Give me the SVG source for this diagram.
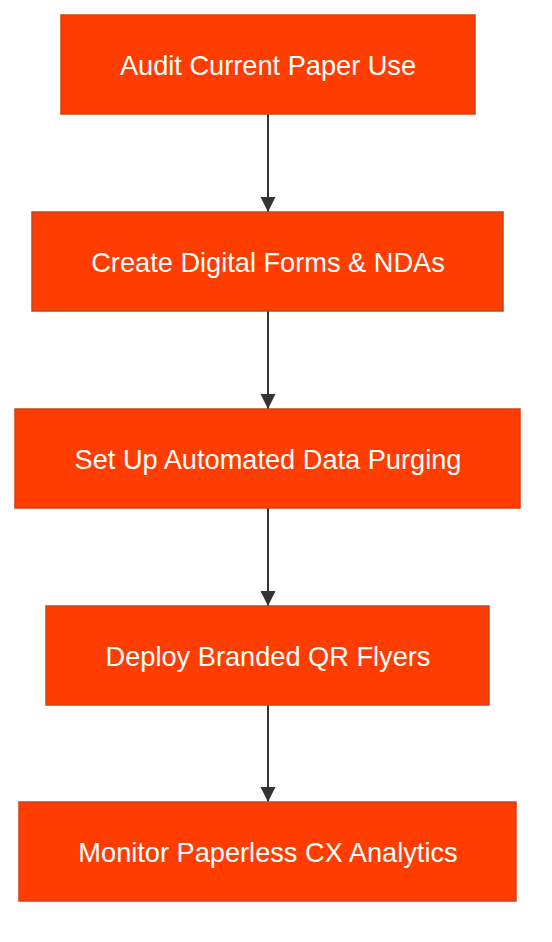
<svg xmlns="http://www.w3.org/2000/svg" width="552" height="942" viewBox="0 0 552 942">
<style>
.n rect{fill:#ff3d00;stroke:#d0401a;stroke-width:1.5}
.n text{fill:#fff;font-family:"Liberation Sans",Arial,sans-serif;font-size:27.2px;text-anchor:middle;dominant-baseline:central}
.e path{stroke:#333;stroke-width:2;fill:none;marker-end:url(#ah)}
</style>
<defs><marker id="ah" viewBox="0 0 10 10" refX="10" refY="5" markerWidth="15" markerHeight="16" markerUnits="userSpaceOnUse" orient="auto"><path d="M0,0L10,5L0,10z" fill="#333"/></marker></defs>
<rect width="552" height="942" fill="#fff"/>
<g id="edges" class="e">
<path d="M268,114V212"/>
<path d="M268,311V409"/>
<path d="M268,508V606"/>
<path d="M268,705V802"/>
</g>
<g id="n1" class="n"><rect x="61" y="15" width="414" height="99"/><text x="268" y="65">Audit Current Paper Use</text></g>
<g id="n2" class="n"><rect x="32" y="212" width="471" height="99"/><text x="268" y="262">Create Digital Forms &amp; NDAs</text></g>
<g id="n3" class="n"><rect x="15" y="409" width="505" height="99"/><text x="268" y="459">Set Up Automated Data Purging</text></g>
<g id="n4" class="n"><rect x="46" y="606" width="443" height="99"/><text x="268" y="656">Deploy Branded QR Flyers</text></g>
<g id="n5" class="n"><rect x="19" y="802" width="497" height="99"/><text x="268" y="852">Monitor Paperless CX Analytics</text></g>
</svg>
